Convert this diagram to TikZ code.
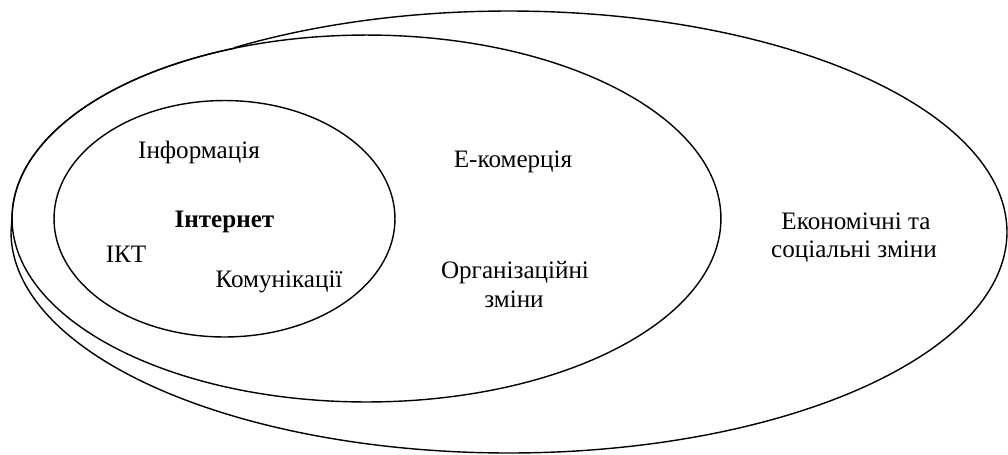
\documentclass[tikz,border=0pt]{standalone}
\usepackage{fontspec}
\setmainfont{Liberation Serif}
\usetikzlibrary{shapes.geometric}
\begin{document}
\begin{tikzpicture}[x=0.02cm,y=-0.02cm,
  ring/.style={draw,ellipse,line width=0.8pt,inner sep=0pt},
  lbl/.style={anchor=base,inner sep=0pt,font=\fontsize{14.3pt}{17pt}\selectfont}]
\useasboundingbox (0,0) rectangle (1008,454);

% outer region: runs along the middle ring on its upper left, then a wider oval
\draw[line width=0.8pt]
  plot[domain=111.8:180,samples=60,smooth] ({366.5+354.5*cos(\x)},{218.5-183.5*sin(\x)})
  -- plot[domain=180:483.4,samples=220,smooth] ({509+498*cos(\x)},{232-221*sin(\x)})
  -- cycle;

% middle and inner rings
\node[ring,minimum width=14.18cm,minimum height=7.34cm] (mid) at (366.5,218.5) {};
\node[ring,minimum width=6.82cm,minimum height=4.73cm] (core) at (224.5,218.75) {};

% labels of the inner ring
\node[lbl] (info) at (199,158) {Інформація};
\node[lbl,font=\fontsize{14.3pt}{17pt}\selectfont\bfseries] (net) at (224.5,227) {Інтернет};
\node[lbl] (ict) at (126,262) {ІКТ};
\node[lbl] (comm) at (279,287) {Комунікації};

% labels of the middle ring
\node[lbl] (ecom) at (513,167) {Е-комерція};
\node[lbl] (org1) at (515,278) {Організаційні};
\node[lbl] (org2) at (514,307) {зміни};

% labels of the outer region
\node[lbl] (eco1) at (856,229) {Економічні та};
\node[lbl] (eco2) at (854,257) {соціальні зміни};
\end{tikzpicture}
\end{document}
